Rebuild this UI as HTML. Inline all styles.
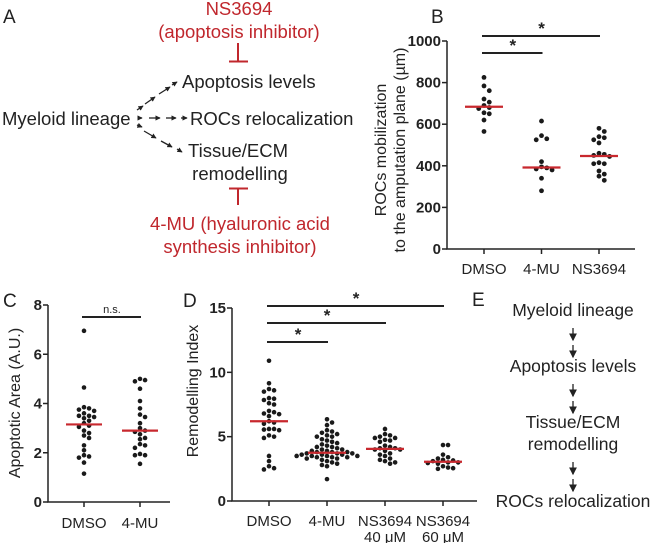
<!DOCTYPE html>
<html><head><meta charset="utf-8"><style>
body{margin:0;background:#fff}
svg{display:block;font-family:"Liberation Sans",Arial,sans-serif}
.t{font-size:17.5px;fill:#222}
.ta{font-size:18.5px;fill:#222}
.r{font-size:18.5px;fill:#c0272d}
.tk{font-size:15px;font-weight:bold;fill:#222}
.lb{font-size:15px;fill:#222}
.pl{font-size:19px;fill:#222}
</style></head><body>
<svg id="fig" width="652" height="543" viewBox="0 0 652 543">
<defs><marker id="ah" markerWidth="6" markerHeight="6" refX="5" refY="3" orient="auto"><path d="M0,0 L6,3 L0,6 z" fill="#222"/></marker>
<marker id="ahs" markerWidth="4" markerHeight="4" refX="3.5" refY="2" orient="auto"><path d="M0,0 L4,2 L0,4 z" fill="#222"/></marker></defs>
<g>
<text class="pl" x="3" y="23">A</text>
<text class="r" x="239" y="15" text-anchor="middle">NS3694</text>
<text class="r" x="239" y="38" text-anchor="middle">(apoptosis inhibitor)</text>
<path d="M238,43V61M229,61.5H248" stroke="#c0272d" stroke-width="2" fill="none"/>
<text class="ta" x="182" y="88">Apoptosis levels</text>
<text class="ta" x="2" y="125">Myeloid lineage</text>
<text class="ta" x="190" y="125">ROCs relocalization</text>
<text class="ta" x="238" y="157" text-anchor="middle">Tissue/ECM</text>
<text class="ta" x="240" y="180" text-anchor="middle">remodelling</text>
<path d="M229,188.5H248M238,188V205" stroke="#c0272d" stroke-width="2" fill="none"/>
<text class="r" x="240" y="230" text-anchor="middle">4-MU (hyaluronic acid</text>
<text class="r" x="240" y="253" text-anchor="middle">synthesis inhibitor)</text>
<g stroke="#222" stroke-width="1.3" fill="none" marker-end="url(#ahs)">
<path d="M137,110 L143,106"/>
<path d="M145,104 L155,97"/>
<path d="M159,94 L170,87"/>
<path d="M172,85 L177,82"/>
<path d="M138,118 L142,118"/>
<path d="M149,118 L160,118"/>
<path d="M166,118 L176,118"/>
<path d="M181,118 L187,118"/>
<path d="M137,125 L142,127"/>
<path d="M144,131 L156,138"/>
<path d="M161,141 L172,147"/>
<path d="M177,149 L182,152"/>
</g>
</g>
<g>
<text class="pl" x="472" y="306">E</text>
<text class="t" x="573" y="316" text-anchor="middle">Myeloid lineage</text>
<text class="t" x="573" y="372" text-anchor="middle">Apoptosis levels</text>
<text class="t" x="573" y="428" text-anchor="middle">Tissue/ECM</text>
<text class="t" x="573" y="450" text-anchor="middle">remodelling</text>
<text class="t" x="573" y="507" text-anchor="middle">ROCs relocalization</text>
<g stroke="#222" stroke-width="1.3" fill="none" marker-end="url(#ah)">
<path d="M573,328V340"/><path d="M573,345V357"/>
<path d="M573,384V396"/><path d="M573,401V413"/>
<path d="M573,462V474"/><path d="M573,479V491"/>
</g>
</g>
<text class="pl" x="431" y="23">B</text>
<text class="pl" x="3" y="307">C</text>
<text class="pl" x="183" y="307">D</text>
<g id="charts"></g>
</svg>
<script>
// Panel B data
const bCats = ["DMSO","4-MU","NS3694"];
const bDMSO = [825,784,761,721,706,690,680,675,655,650,620,565];
const b4MU = [615,545,530,525,420,395,390,385,380,340,280];
const bNS = [580,565,540,535,525,510,460,455,450,445,415,410,410,375,360,350,330];
const bMedians = [684,392,447];
const bTicks = [0,200,400,600,800,1000];
// Panel C data
const cCats = ["DMSO","4-MU"];
const cDMSO = [6.95,4.65,3.85,3.8,3.75,3.7,3.6,3.5,3.5,3.45,3.4,3.3,3.2,3.1,3.05,2.9,2.8,2.7,2.6,2.3,2.1,1.9,1.85,1.8,1.6,1.15];
const c4MU = [5.0,4.95,4.9,4.6,4.1,3.8,3.55,3.45,3.2,3.0,2.9,2.85,2.75,2.6,2.55,2.35,2.3,2.2,1.95,1.9,1.9,1.55];
const cMedians = [3.15,2.9];
const cTicks = [0,2,4,6,8];
// Panel D data
const dCats = [["DMSO"],["4-MU"],["NS3694","40 μM"],["NS3694","60 μM"]];
const dDMSO = [10.9,9.15,8.7,8.6,8.5,8.0,7.95,7.85,7.6,7.5,7.0,6.9,6.8,6.75,6.6,6.2,6.1,6.0,5.6,5.6,5.55,5.5,5.1,5.0,4.9,3.5,3.1,2.7,2.55,2.45];
const d4MU = [6.35,6.1,5.9,5.5,5.4,5.3,5.2,5.1,5.0,5.0,4.8,4.7,4.6,4.5,4.4,4.3,4.2,4.2,4.1,4.0,4.0,3.9,3.9,3.8,3.8,3.8,3.7,3.7,3.7,3.6,3.6,3.6,3.5,3.5,3.5,3.5,3.4,3.4,3.4,3.3,3.3,3.2,3.1,3.0,2.9,2.8,2.7,1.7];
const dNS40 = [5.6,5.2,5.1,5.0,4.9,4.9,4.75,4.7,4.6,4.3,4.2,4.1,4.1,4.0,4.0,3.9,3.7,3.6,3.5,3.3,3.2,3.1,3.0,2.9];
const dNS60 = [4.35,4.35,3.6,3.4,3.3,3.2,3.15,3.1,3.0,3.0,2.95,2.9,2.7,2.6,2.55,2.5];
const dMedians = [6.2,3.75,4.05,3.05];
const dTicks = [0,5,10,15];

const NS="http://www.w3.org/2000/svg";
const root=document.getElementById('charts');
function mk(tag,attrs,parent){const e=document.createElementNS(NS,tag);for(const k in attrs)e.setAttribute(k,attrs[k]);(parent||root).appendChild(e);return e;}

function swarm(vals,cx,ys,r){
  const placed=[];
  const sorted=vals.slice().sort((a,b)=>b-a);
  for(const v of sorted){
    const y=ys(v);let off=0;
    for(let k=0;k<40;k++){
      const cand=k===0?0:(k%2?1:-1)*Math.ceil(k/2)*(r*2.2);
      if(placed.every(p=>Math.hypot(p[0]-(cx+cand),p[1]-y)>=r*2.1)){off=cand;break;}
    }
    placed.push([cx+off,y]);
  }
  return placed;
}

function chart(o){
  const g=mk('g',{});
  
  
  const ys=v=>o.y0+(o.y1-o.y0)*(v-o.min)/(o.max-o.min);
  const xs=i=>o.x0+i*o.step;
  const ax=mk('path',{d:`M${o.ax},${ys(o.max)}V${ys(o.min)}H${o.axEnd}`,stroke:'#222','stroke-width':1.5,fill:'none'},g);
  
  
  o.ticks.forEach(t=>{
    const l=mk('line',{x1:o.ax-5,x2:o.ax,y1:ys(t),y2:ys(t),stroke:'#222','stroke-width':1.5},g);
    
    
    const tx=mk('text',{x:o.ax-6,y:ys(t)+5,'text-anchor':'end',class:'tk'},g);
    
    
    tx.textContent=t;
  });
  o.cats.forEach((c,i)=>{
    const tk=mk('line',{x1:xs(i),x2:xs(i),y1:ys(o.min),y2:ys(o.min)+5,stroke:'#222','stroke-width':1.5},g);
    
    
    const lines=Array.isArray(c)?c:[c];
    lines.forEach((s,j)=>{
      const tx=mk('text',{x:xs(i),y:o.xlabY+j*16,'text-anchor':'middle',class:'lb'},g);
      
      
      tx.textContent=s;
    });
  });
  o.series.forEach((vals,i)=>{
    swarm(vals,xs(i),ys,o.r).forEach(p=>{
      const c=mk('circle',{cx:p[0],cy:p[1],r:o.r,fill:'#1a1a1a'},g);
      
      
    });
  });
  o.medians.forEach((m,i)=>{
    const l=mk('line',{x1:xs(i)-o.mw,x2:xs(i)+o.mw,y1:ys(m),y2:ys(m),stroke:'#c8282e','stroke-width':2.2},g);
    
    
  });
  o.sig.forEach(s=>{
    const l=mk('line',{x1:xs(s[0])-2,x2:xs(s[1])+1,y1:s[2],y2:s[2],stroke:'#222','stroke-width':2},g);
    
    
    const t=mk('text',{x:(xs(s[0])+xs(s[1]))/2,y:s[2]-(s[3]==='*'?2:4),'text-anchor':'middle',style:s[3]==='*'?'font-size:17px;font-weight:bold;fill:#222':'font-size:11px;fill:#222'},g);
    
    
    t.textContent=s[3];
  });
  o.title.forEach((s,j)=>{
    const t=mk('text',{transform:`translate(${o.tx+j*19},${o.ty}) rotate(-90)`,'text-anchor':'middle',style:'font-size:16px;fill:#222'},g);
    
    
    t.textContent=s;
  });
}

chart({name:'panel-b-chart',cats:bCats,series:[bDMSO,b4MU,bNS],medians:bMedians,ticks:bTicks,min:0,max:1000,y0:249,y1:41,ax:447,axEnd:635,x0:484,step:57.5,r:2.4,mw:19,xlabY:274,
  sig:[[0,2,36,'*'],[0,1,53,'*']],title:['ROCs mobilization','to the amputation plane (µm)'],tx:386,ty:150});
chart({name:'panel-c-chart',cats:cCats,series:[cDMSO,c4MU],medians:cMedians,ticks:cTicks,min:0,max:8,y0:502,y1:305,ax:48,axEnd:170,x0:84,step:56,r:2.3,mw:18,xlabY:528,
  sig:[[0,1,317,'n.s.']],title:['Apoptotic Area (A.U.)'],tx:20,ty:403});
chart({name:'panel-d-chart',cats:dCats,series:[dDMSO,d4MU,dNS40,dNS60],medians:dMedians,ticks:dTicks,min:0,max:15,y0:501,y1:308,ax:232,axEnd:477,x0:269,step:58,r:2.3,mw:19,xlabY:526,
  sig:[[0,3,306,'*'],[0,2,323,'*'],[0,1,342,'*']],title:['Remodelling Index'],tx:198,ty:391});
</script>
</body></html>
